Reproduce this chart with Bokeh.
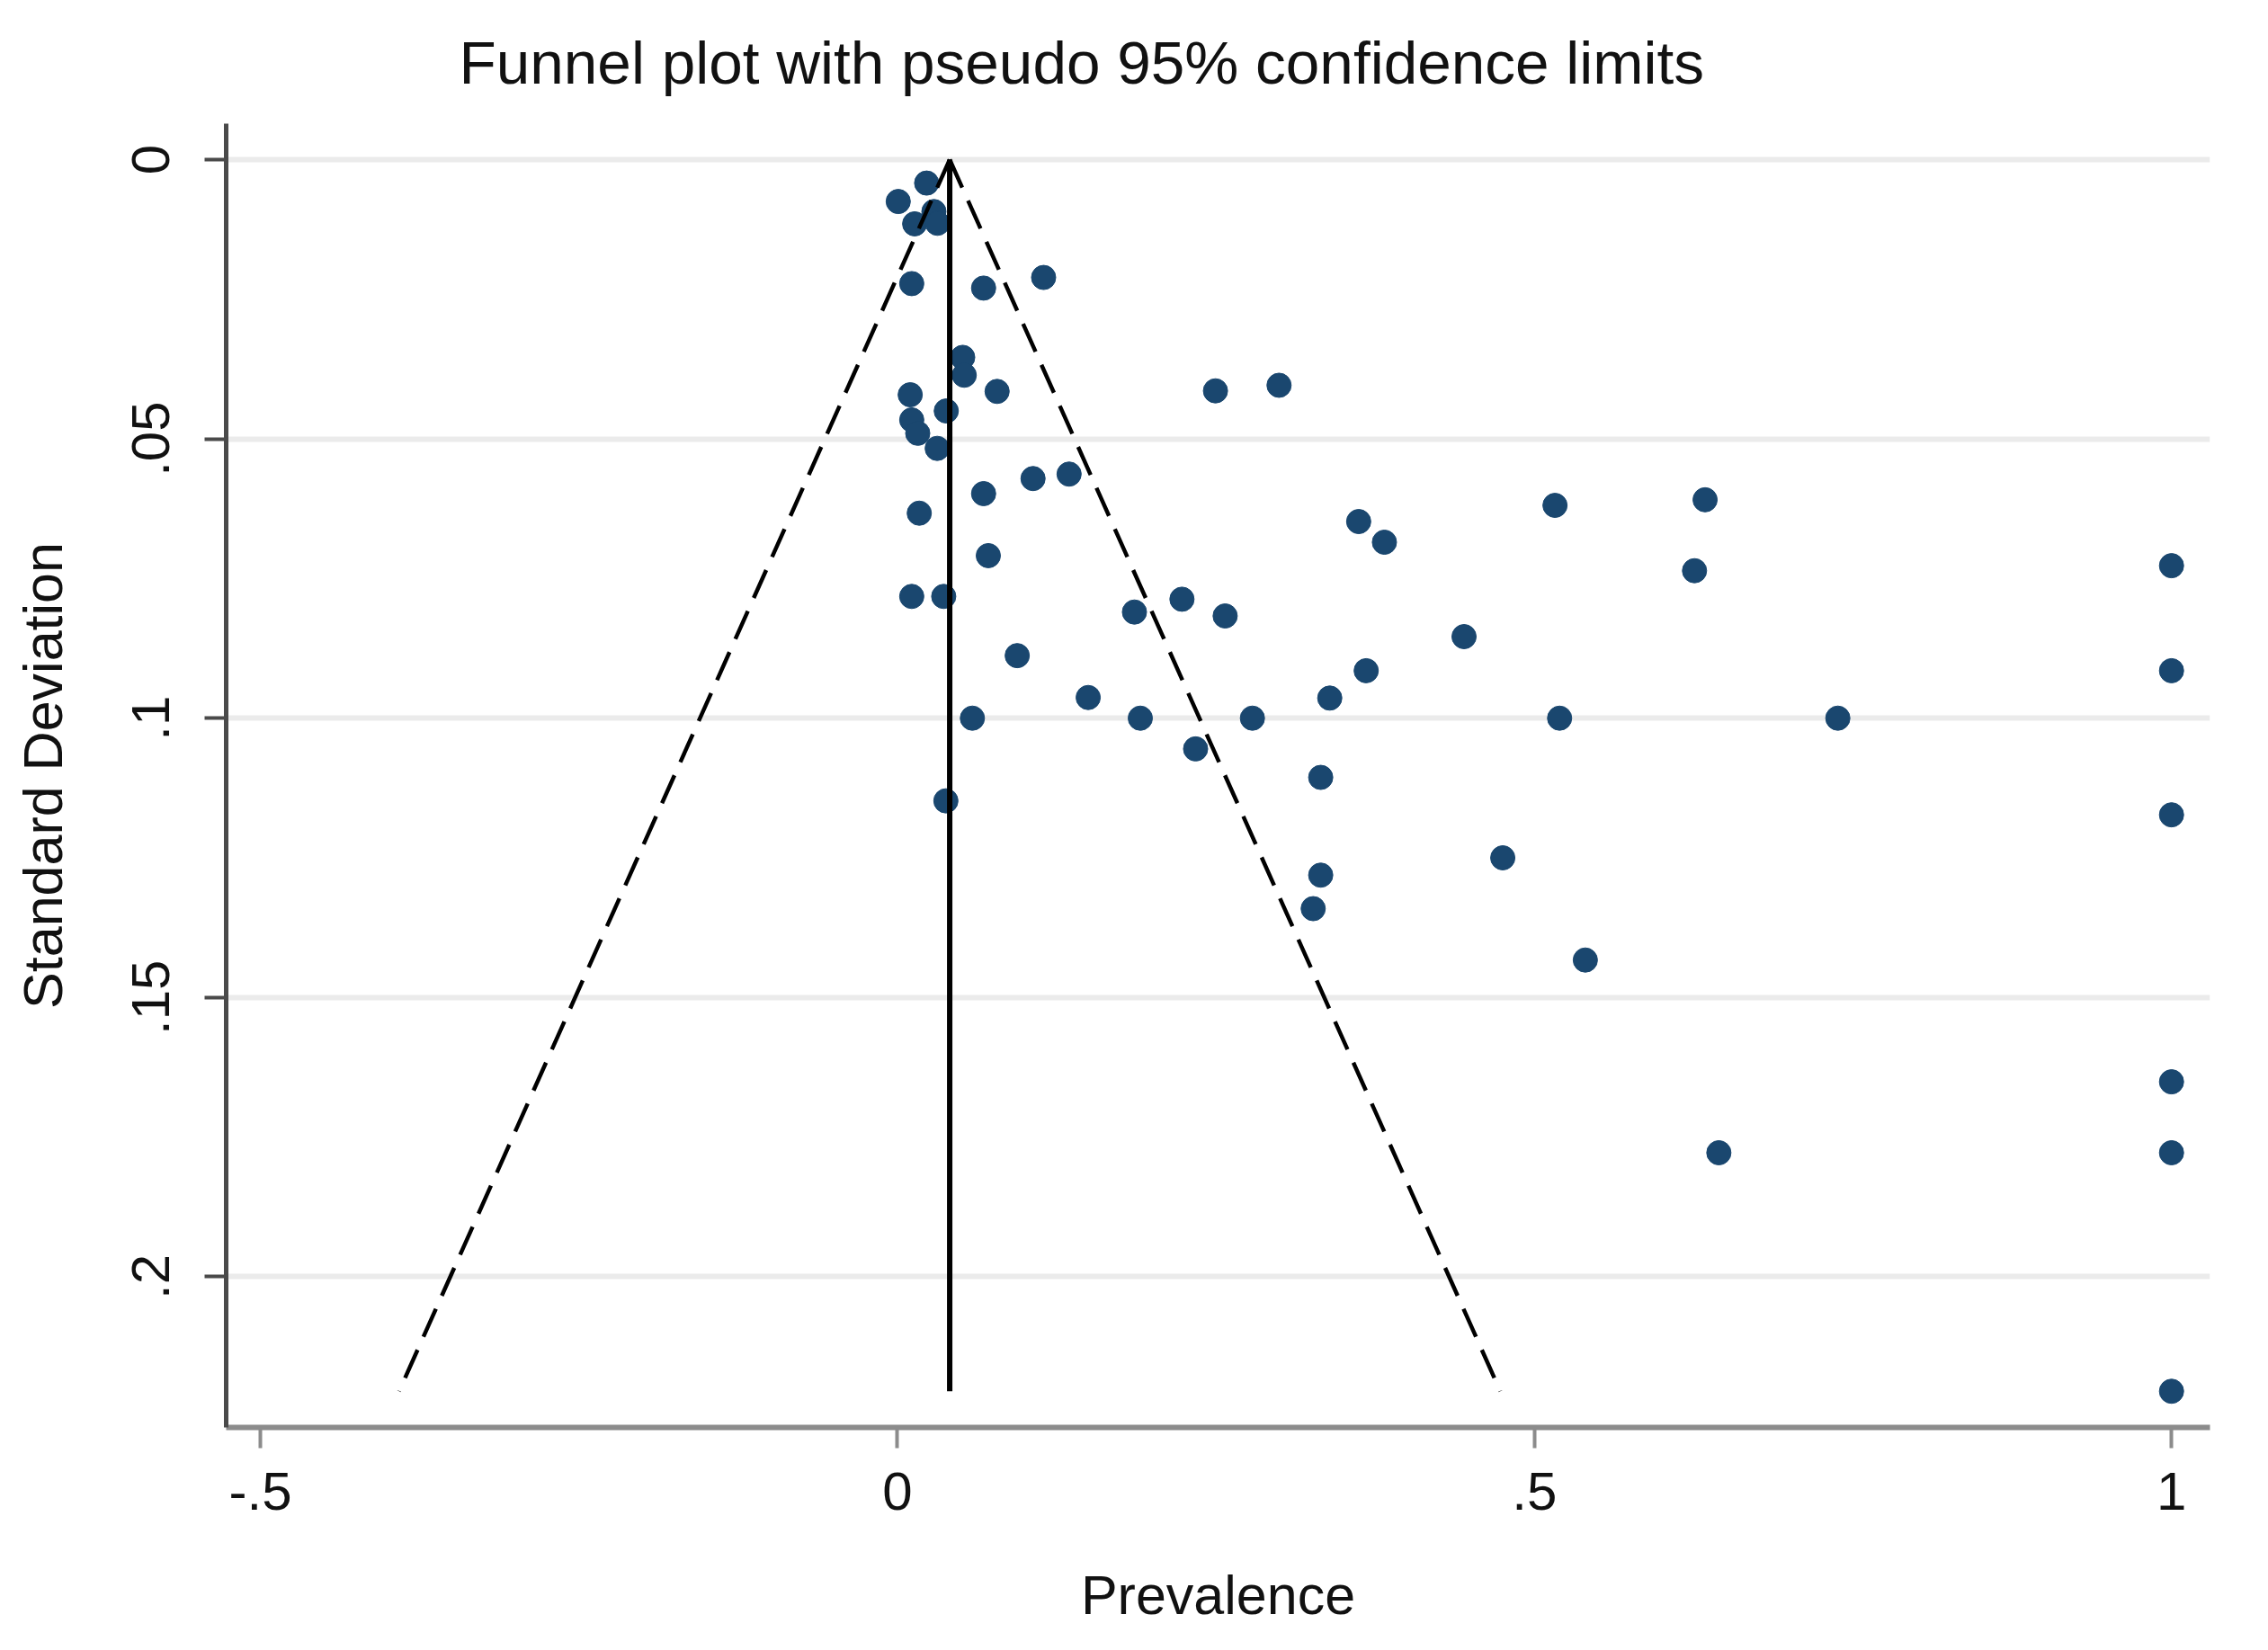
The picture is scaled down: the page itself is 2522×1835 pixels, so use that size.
from bokeh.plotting import figure
from bokeh.models import Range1d, FixedTicker
from bokeh.embed import file_html
from bokeh.resources import INLINE

# Study-level prevalence estimates and their standard deviations
prevalence = [
    0.0229, 0.0006, 0.0135, 0.0286, 0.0314, 0.0112, 0.0676, 0.1147,
    0.0512, 0.0524, 0.0782, 0.0100, 0.0383, 0.0112, 0.0159, 0.0312,
    0.0676, 0.1064, 0.1347, 0.0171,
    0.2496, 0.2995, 0.3620, 0.3822, 0.5161, 0.6339, 0.0713, 0.6256,
    1.0000, 0.0112, 0.0363, 0.2233, 0.1860, 0.2572, 0.4447, 0.0940,
    0.3679, 1.0000, 0.1497, 0.3393, 0.0588, 0.1906, 0.2786, 0.5197,
    0.7381, 0.2340, 0.0380, 0.3322, 1.0000, 0.4751, 0.3322, 0.3263,
    0.5399, 1.0000, 0.6447, 1.0000, 1.0000,
]
std_dev = [
    0.0042, 0.0075, 0.0115, 0.0093, 0.0114, 0.0222, 0.0230, 0.0211,
    0.0354, 0.0386, 0.0415, 0.0421, 0.0450, 0.0466, 0.0490, 0.0517,
    0.0598, 0.0571, 0.0563, 0.0633,
    0.0414, 0.0404, 0.0648, 0.0685, 0.0619, 0.0609, 0.0709, 0.0736,
    0.0727, 0.0782, 0.0782, 0.0787, 0.0810, 0.0817, 0.0854, 0.0888,
    0.0915, 0.0915, 0.0963, 0.0964, 0.1000, 0.1000, 0.1000, 0.1000,
    0.1000, 0.1055, 0.1148, 0.1106, 0.1173, 0.1250, 0.1281, 0.1341,
    0.1433, 0.1651, 0.1778, 0.1778, 0.2205,
]

# Pooled estimate and the z value of the pseudo 95% limits
pooled = 0.041
z95 = 1.96

x_ticks = [-0.5, 0, 0.5, 1]
x_tick_labels = ["-.5", "0", ".5", "1"]
y_ticks = [0, 0.05, 0.1, 0.15, 0.2]
y_tick_labels = ["0", ".05", ".1", ".15", ".2"]

title_text = "Funnel plot with pseudo 95% confidence limits"

FONT = "Liberation Sans"
NAVY = "#1a476f"

p = figure(
    width=2522, height=1835,
    output_backend="svg", toolbar_location=None,
    x_range=Range1d(-0.5269, 1.0302),
    y_range=Range1d(0.22698, -0.00644),   # standard deviation grows downward
    min_border_left=251, min_border_right=65,
    min_border_top=137, min_border_bottom=248,
    background_fill_color="white", border_fill_color="white",
)
p.outline_line_color = None

# Title
p.title.text = title_text
p.title.align = "left"
p.title.vertical_align = "top"
p.title.offset = 259
p.title.standoff = 58
p.title.text_font = FONT
p.title.text_font_size = "67.5px"
p.title.text_font_style = "normal"
p.title.text_color = "#111111"

# Grid: horizontal lines only, at the y ticks
p.xgrid.visible = False
p.ygrid.ticker = FixedTicker(ticks=y_ticks)
p.ygrid.grid_line_color = "#ebebeb"
p.ygrid.grid_line_width = 6

# X axis
xa = p.xaxis[0]
xa.ticker = FixedTicker(ticks=x_ticks)
xa.major_label_overrides = {t: s for t, s in zip(x_ticks, x_tick_labels)}
xa.axis_label = "Prevalence"
xa.axis_line_color = "#8c8c8c"
xa.axis_line_width = 6
xa.major_tick_line_color = "#8c8c8c"
xa.major_tick_line_width = 4
xa.major_tick_out = 23
xa.major_tick_in = 0
xa.minor_tick_line_color = None
xa.major_label_standoff = 27
xa.axis_label_standoff = 58

# Y axis
ya = p.yaxis[0]
ya.ticker = FixedTicker(ticks=y_ticks)
ya.major_label_overrides = {t: s for t, s in zip(y_ticks, y_tick_labels)}
ya.major_label_orientation = "vertical"
ya.axis_label = "Standard Deviation"
ya.axis_line_color = "#4a4a4a"
ya.axis_line_width = 5
ya.major_tick_line_color = "#4a4a4a"
ya.major_tick_line_width = 4
ya.major_tick_out = 24
ya.major_tick_in = 0
ya.minor_tick_line_color = None
ya.major_label_standoff = 39
ya.axis_label_standoff = 63

for ax in (xa, ya):
    ax.major_label_text_font = FONT
    ax.major_label_text_font_size = "60px"
    ax.major_label_text_color = "#111111"
    ax.axis_label_text_font = FONT
    ax.axis_label_text_font_size = "61px"
    ax.axis_label_text_font_style = "normal"
    ax.axis_label_text_color = "#111111"

# Study points
p.scatter(prevalence, std_dev, size=27, color=NAVY, line_color=NAVY)

# Pooled estimate line and pseudo 95% confidence limits
max_sd = max(std_dev)
p.line([pooled, pooled], [0, max_sd], line_color="black", line_width=6)
p.line([pooled, pooled - z95 * max_sd], [0, max_sd],
       line_color="black", line_width=4.5, line_dash="34 16")
p.line([pooled, pooled + z95 * max_sd], [0, max_sd],
       line_color="black", line_width=4.5, line_dash="34 16")

open("out.html", "w").write(file_html(p, INLINE))
